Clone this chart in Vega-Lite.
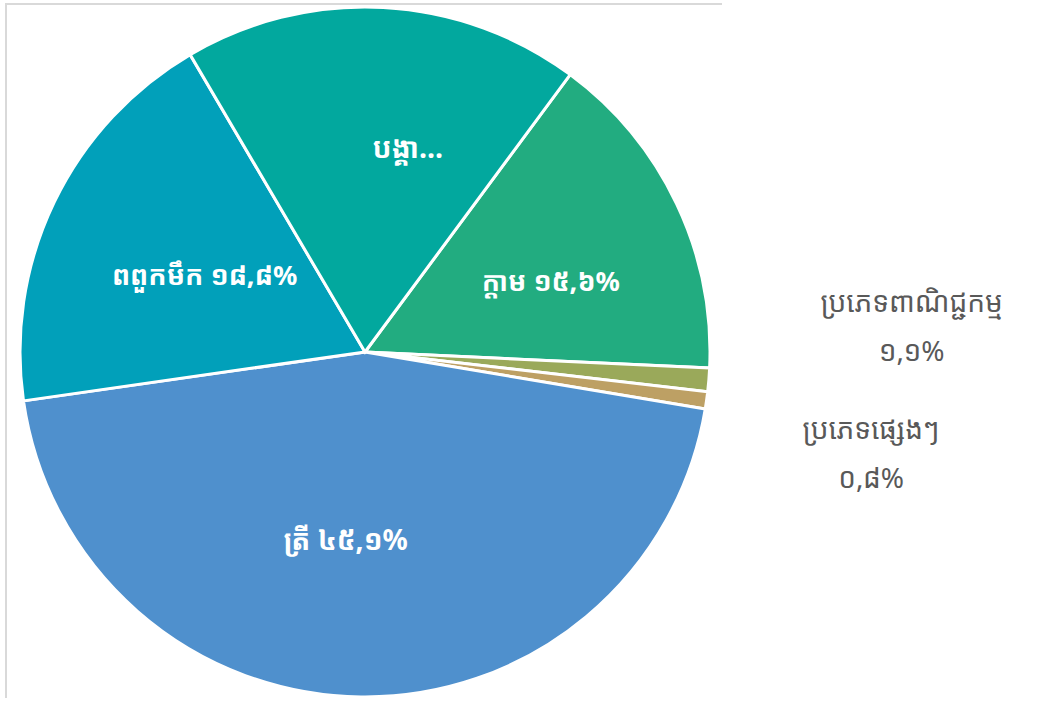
{
  "$schema": "https://vega.github.io/schema/vega-lite/v6.json",
  "autosize": "none",
  "padding": {"left": 6, "top": 4, "right": 337, "bottom": 10},
  "width": 718,
  "height": 696,
  "background": "#ffffff",
  "view": {"stroke": "#d9d9d9", "strokeWidth": 2, "strokeDash": [716, 1418, 694]},
  "config": {
    "text": {"font": "Noto Sans Khmer, Khmer OS, Noto Sans, sans-serif"}
  },
  "data": {
    "values": [
      {"cat": "ក្តាម", "value": 15.6, "idx": 1, "label": "ក្តាម ១៥,៦%"},
      {"cat": "ប្រភេទពាណិជ្ជកម្ម", "value": 1.1, "idx": 2, "label": "ប្រភេទពាណិជ្ជកម្ម\n១,១%"},
      {"cat": "ប្រភេទផ្សេងៗ", "value": 0.8, "idx": 3, "label": "ប្រភេទផ្សេងៗ\n០,៨%"},
      {"cat": "ត្រី", "value": 45.1, "idx": 4, "label": "ត្រី ៤៥,១%"},
      {"cat": "ពពួកមឹក", "value": 18.8, "idx": 5, "label": "ពពួកមឹក ១៨,៨%"},
      {"cat": "បង្គា", "value": 18.6, "idx": 6, "label": "បង្គា..."}
    ]
  },
  "encoding": {
    "theta": {"field": "value", "type": "quantitative", "stack": true, "scale": {"range": [0.637, 6.9202]}},
    "order": {"field": "idx", "type": "quantitative"}
  },
  "layer": [
    {
      "mark": {"type": "arc", "outerRadius": 345, "stroke": "#ffffff", "strokeWidth": 3},
      "encoding": {
        "color": {
          "field": "cat", "type": "nominal", "legend": null,
          "scale": {
            "domain": ["ក្តាម", "ប្រភេទពាណិជ្ជកម្ម", "ប្រភេទផ្សេងៗ", "ត្រី", "ពពួកមឹក", "បង្គា"],
            "range": ["#22ac80", "#9aa95a", "#bda064", "#4f90cd", "#01a0ba", "#02a89e"]
          }
        }
      }
    },
    {
      "mark": {"type": "text", "fontSize": 28, "fontWeight": "bold", "fill": "#ffffff", "align": "center", "baseline": "middle", "dx": -17, "dy": -2},
      "encoding": {
        "radius": {"value": 192},
        "text": {"condition": {"test": "datum.cat === 'ត្រី'", "field": "label", "type": "nominal"}, "value": ""}
      }
    },
    {
      "mark": {"type": "text", "fontSize": 27, "fontWeight": "bold", "fill": "#ffffff", "align": "center", "baseline": "middle", "dy": 2},
      "encoding": {
        "radius": {"value": 178},
        "text": {"condition": {"test": "datum.cat === 'ពពួកមឹក'", "field": "label", "type": "nominal"}, "value": ""}
      }
    },
    {
      "mark": {"type": "text", "fontSize": 28, "fontWeight": "bold", "fill": "#ffffff", "align": "center", "baseline": "middle", "dx": 32, "dy": 2},
      "encoding": {
        "radius": {"value": 204},
        "text": {"condition": {"test": "datum.cat === 'បង្គា'", "field": "label", "type": "nominal"}, "value": ""}
      }
    },
    {
      "mark": {"type": "text", "fontSize": 27, "fontWeight": "bold", "fill": "#ffffff", "align": "center", "baseline": "middle", "dx": 7, "dy": 16},
      "encoding": {
        "radius": {"value": 198},
        "text": {"condition": {"test": "datum.cat === 'ក្តាម'", "field": "label", "type": "nominal"}, "value": ""}
      }
    },
    {
      "mark": {"type": "text", "fontSize": 28, "fill": "#595959", "align": "center", "baseline": "middle", "lineBreak": "\n", "lineHeight": 49, "dx": 148, "dy": -80},
      "encoding": {
        "radius": {"value": 400},
        "text": {"condition": {"test": "datum.cat === 'ប្រភេទពាណិជ្ជកម្ម'", "field": "label", "type": "nominal"}, "value": ""}
      }
    },
    {
      "mark": {"type": "text", "fontSize": 28, "fill": "#595959", "align": "center", "baseline": "middle", "lineBreak": "\n", "lineHeight": 49, "dx": 110, "dy": 23},
      "encoding": {
        "radius": {"value": 400},
        "text": {"condition": {"test": "datum.cat === 'ប្រភេទផ្សេងៗ'", "field": "label", "type": "nominal"}, "value": ""}
      }
    }
  ]
}
